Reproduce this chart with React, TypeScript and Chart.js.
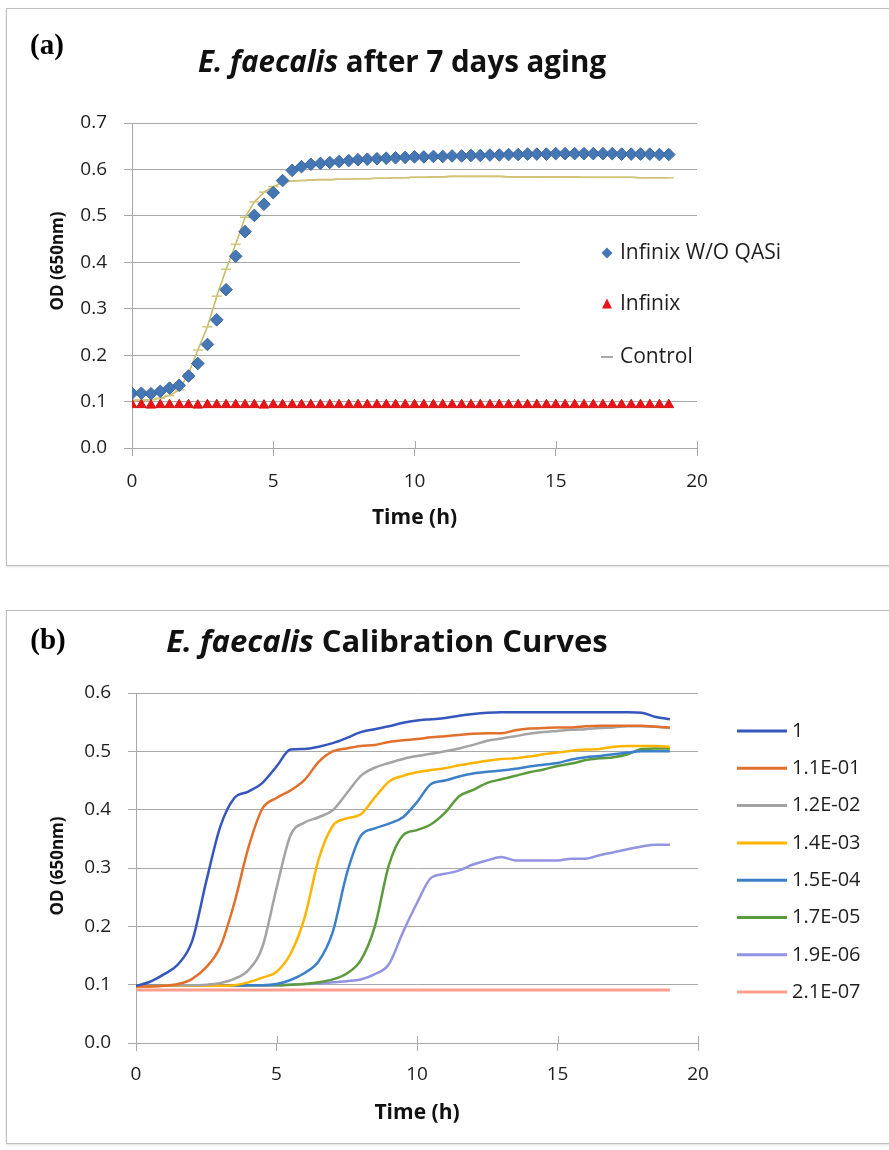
import React, { useEffect, useRef } from 'react';
import { Chart, registerables } from 'chart.js';

Chart.register(...registerables);

const FAMILY = "'Open Sans', sans-serif";
const GRID = '#a8a8a8';
const TEXT = '#1e1e1e';

// ---------- Panel (a) data ----------
const TIME_A = [0, 0.33, 0.67, 1, 1.33, 1.67, 2, 2.33, 2.67, 3, 3.33, 3.67, 4, 4.33, 4.67, 5, 5.33, 5.67, 6, 6.33, 6.67, 7, 7.33, 7.67, 8, 8.33, 8.67, 9, 9.33, 9.67, 10, 10.33, 10.67, 11, 11.33, 11.67, 12, 12.33, 12.67, 13, 13.33, 13.67, 14, 14.33, 14.67, 15, 15.33, 15.67, 16, 16.33, 16.67, 17, 17.33, 17.67, 18, 18.33, 18.67, 19];
const INFINIX_WO_QASI = [0.118, 0.118, 0.117, 0.122, 0.129, 0.135, 0.155, 0.182, 0.223, 0.276, 0.341, 0.413, 0.466, 0.501, 0.525, 0.55, 0.576, 0.598, 0.606, 0.611, 0.613, 0.615, 0.617, 0.619, 0.621, 0.622, 0.623, 0.624, 0.625, 0.626, 0.627, 0.627, 0.628, 0.628, 0.629, 0.629, 0.63, 0.63, 0.631, 0.631, 0.632, 0.632, 0.633, 0.633, 0.633, 0.634, 0.634, 0.634, 0.634, 0.634, 0.634, 0.634, 0.633, 0.633, 0.633, 0.633, 0.632, 0.632];
const INFINIX = [0.093, 0.093, 0.092, 0.093, 0.093, 0.093, 0.093, 0.092, 0.093, 0.093, 0.093, 0.093, 0.093, 0.093, 0.092, 0.093, 0.093, 0.093, 0.093, 0.093, 0.093, 0.093, 0.093, 0.093, 0.093, 0.093, 0.093, 0.093, 0.093, 0.093, 0.093, 0.093, 0.093, 0.093, 0.093, 0.093, 0.093, 0.093, 0.093, 0.093, 0.093, 0.093, 0.093, 0.093, 0.093, 0.093, 0.093, 0.093, 0.093, 0.093, 0.093, 0.093, 0.093, 0.093, 0.093, 0.093, 0.093, 0.093];
const CONTROL = [0.103, 0.103, 0.104, 0.107, 0.113, 0.125, 0.16, 0.211, 0.261, 0.327, 0.385, 0.439, 0.497, 0.53, 0.551, 0.563, 0.572, 0.575, 0.576, 0.577, 0.578, 0.578, 0.579, 0.579, 0.58, 0.58, 0.581, 0.581, 0.582, 0.582, 0.583, 0.583, 0.584, 0.584, 0.585, 0.585, 0.585, 0.585, 0.585, 0.585, 0.584, 0.584, 0.584, 0.584, 0.584, 0.584, 0.584, 0.584, 0.583, 0.583, 0.583, 0.583, 0.583, 0.583, 0.582, 0.582, 0.582, 0.582];
const SERIES_A_NAMES = ['Infinix W/O QASi', 'Infinix', 'Control'];
const Y_TICKS_A_MAX = 0.7;

// ---------- Panel (b) data ----------
const TIME_B = [0, 0.5, 1, 1.5, 2, 2.5, 3, 3.5, 4, 4.5, 5, 5.5, 6, 6.5, 7, 7.5, 8, 8.5, 9, 9.5, 10, 10.5, 11, 11.5, 12, 12.5, 13, 13.5, 14, 14.5, 15, 15.5, 16, 16.5, 17, 17.5, 18, 18.5, 19];
const DIL_1 = [0.098, 0.105, 0.118, 0.135, 0.175, 0.277, 0.371, 0.42, 0.431, 0.446, 0.474, 0.503, 0.504, 0.508, 0.514, 0.523, 0.533, 0.538, 0.543, 0.549, 0.553, 0.555, 0.557, 0.561, 0.564, 0.566, 0.567, 0.567, 0.567, 0.567, 0.567, 0.567, 0.567, 0.567, 0.567, 0.567, 0.566, 0.559, 0.555];
const DIL_2 = [0.097, 0.097, 0.098, 0.101, 0.11, 0.13, 0.165, 0.24, 0.335, 0.402, 0.42, 0.433, 0.451, 0.482, 0.5, 0.505, 0.509, 0.511, 0.516, 0.519, 0.521, 0.524, 0.526, 0.528, 0.53, 0.531, 0.531, 0.536, 0.539, 0.54, 0.541, 0.541, 0.543, 0.544, 0.544, 0.544, 0.544, 0.542, 0.541];
const DIL_3 = [0.098, 0.098, 0.098, 0.099, 0.099, 0.1, 0.103, 0.11, 0.125, 0.165, 0.265, 0.356, 0.378, 0.387, 0.399, 0.428, 0.458, 0.472, 0.48, 0.487, 0.492, 0.496, 0.5, 0.505, 0.511, 0.518, 0.522, 0.526, 0.53, 0.533, 0.535, 0.537, 0.538, 0.54, 0.541, 0.543, 0.543, 0.542, 0.54];
const DIL_4 = [0.097, 0.097, 0.098, 0.098, 0.098, 0.098, 0.098, 0.099, 0.104, 0.112, 0.122, 0.153, 0.215, 0.315, 0.372, 0.385, 0.392, 0.421, 0.448, 0.458, 0.464, 0.468, 0.471, 0.476, 0.48, 0.484, 0.487, 0.488, 0.491, 0.495, 0.498, 0.501, 0.503, 0.504, 0.508, 0.509, 0.509, 0.509, 0.508];
const DIL_5 = [0.098, 0.098, 0.098, 0.098, 0.098, 0.098, 0.098, 0.098, 0.099, 0.099, 0.101, 0.108, 0.12, 0.14, 0.19, 0.29, 0.355, 0.368, 0.376, 0.387, 0.413, 0.444, 0.45, 0.457, 0.462, 0.465, 0.467, 0.47, 0.474, 0.477, 0.48, 0.486, 0.49, 0.492, 0.495, 0.498, 0.5, 0.5, 0.5];
const DIL_6 = [0.098, 0.098, 0.098, 0.098, 0.098, 0.098, 0.098, 0.098, 0.099, 0.099, 0.099, 0.1, 0.101, 0.104, 0.109, 0.119, 0.142, 0.2, 0.305, 0.356, 0.365, 0.375, 0.395, 0.423, 0.434, 0.446, 0.452, 0.458, 0.464, 0.469, 0.475, 0.479, 0.485, 0.488, 0.49, 0.495, 0.504, 0.505, 0.505];
const DIL_7 = [0.098, 0.098, 0.098, 0.098, 0.098, 0.098, 0.098, 0.098, 0.099, 0.099, 0.099, 0.1, 0.101, 0.102, 0.104, 0.106, 0.109, 0.118, 0.135, 0.19, 0.24, 0.283, 0.29, 0.296, 0.306, 0.313, 0.319, 0.313, 0.313, 0.313, 0.313, 0.316, 0.316, 0.322, 0.327, 0.332, 0.337, 0.34, 0.34];
const DIL_8 = [0.091, 0.091, 0.091, 0.091, 0.091, 0.091, 0.091, 0.091, 0.091, 0.091, 0.091, 0.091, 0.091, 0.091, 0.091, 0.091, 0.091, 0.091, 0.091, 0.091, 0.091, 0.091, 0.091, 0.091, 0.091, 0.091, 0.091, 0.091, 0.091, 0.091, 0.091, 0.091, 0.091, 0.091, 0.091, 0.091, 0.091, 0.091, 0.091];
const SERIES_B_NAMES = ['1', '1.1E-01', '1.2E-02', '1.4E-03', '1.5E-04', '1.7E-05', '1.9E-06', '2.1E-07'];
const SERIES_B_VALUES = [DIL_1, DIL_2, DIL_3, DIL_4, DIL_5, DIL_6, DIL_7, DIL_8];
const SERIES_B_COLORS = ['#3556bd', '#e2702c', '#a3a3a3', '#ffb400', '#3b80c8', '#5b9b3b', '#9293e2', '#ff9d8e'];
const Y_TICKS_B_MAX = 0.6;
const X_MAX = 20;

type Decor = {
  tag: string; tagX: number; tagY: number;
  italic: string; rest: string; titleCX: number; titleY: number; titleSize: number;
  yTitle: string; yTitleX: number; yTitleY: number;
  whiteBox?: [number, number, number, number];
  drawLegend: (ctx: CanvasRenderingContext2D) => void;
};

function decorPlugin(d: Decor) {
  return {
    id: 'decor',
    beforeDatasetsDraw(chart: any) {
      if (d.whiteBox) {
        const ctx = chart.ctx;
        ctx.save();
        ctx.fillStyle = '#ffffff';
        ctx.fillRect(d.whiteBox[0], d.whiteBox[1], d.whiteBox[2], d.whiteBox[3]);
        ctx.restore();
      }
    },
    afterDraw(chart: any) {
      const ctx: CanvasRenderingContext2D = chart.ctx;
      ctx.save();
      const xs = chart.scales.x;
      const bottom = chart.chartArea.bottom;
      ctx.strokeStyle = GRID;
      ctx.lineWidth = 1;
      xs.ticks.forEach((t: any) => {
        const px = Math.round(xs.getPixelForValue(t.value)) + 0.5;
        ctx.beginPath();
        ctx.moveTo(px, bottom - 7);
        ctx.lineTo(px, bottom);
        ctx.stroke();
      });
      ctx.fillStyle = '#000';
      ctx.font = "bold 29px 'Liberation Serif', serif";
      ctx.textAlign = 'center';
      ctx.textBaseline = 'middle';
      ctx.fillText(d.tag, d.tagX, d.tagY);

      const fi = `italic bold ${d.titleSize}px ${FAMILY}`;
      const fr = `bold ${d.titleSize}px ${FAMILY}`;
      ctx.font = fi;
      const wi = ctx.measureText(d.italic).width;
      ctx.font = fr;
      const wr = ctx.measureText(d.rest).width;
      const x0 = d.titleCX - (wi + wr) / 2;
      ctx.textAlign = 'left';
      ctx.textBaseline = 'alphabetic';
      ctx.fillStyle = '#111';
      ctx.font = fi;
      ctx.fillText(d.italic, x0, d.titleY);
      ctx.font = fr;
      ctx.fillText(d.rest, x0 + wi, d.titleY);

      ctx.translate(d.yTitleX, d.yTitleY);
      ctx.rotate(-Math.PI / 2);
      ctx.font = `bold 17px ${FAMILY}`;
      ctx.textAlign = 'center';
      ctx.textBaseline = 'middle';
      ctx.fillText(d.yTitle, 0, 0);
      ctx.restore();

      ctx.save();
      d.drawLegend(ctx);
      ctx.restore();
    },
  };
}

function axes(yMax: number, yWidth: number, xTickPad: number) {
  return {
    x: {
      type: 'linear', min: 0, max: X_MAX,
      afterFit: (s: any) => { s.height = 90; },
      ticks: { stepSize: 5, padding: xTickPad, color: TEXT, font: { size: 19, family: FAMILY } },
      grid: { drawOnChartArea: false, drawTicks: true, tickLength: 8, color: GRID },
      border: { color: GRID },
      title: { display: true, text: 'Time (h)', color: '#111', font: { size: 21, weight: 'bold', family: FAMILY }, padding: { top: 0, bottom: 7.4 } },
    },
    y: {
      type: 'linear', min: 0, max: yMax,
      afterFit: (s: any) => { s.width = yWidth; },
      ticks: { stepSize: 0.1, padding: 17, color: TEXT, font: { size: 19, family: FAMILY }, callback: (v: any) => Number(v).toFixed(1) },
      grid: { color: GRID, tickLength: 8 },
      border: { color: GRID },
    },
  };
}

function configA() {
  const pts = (vals: number[]) => TIME_A.map((t, i) => ({ x: t, y: vals[i] }));
  const legend = (ctx: CanvasRenderingContext2D) => {
    ctx.font = `21px ${FAMILY}`;
    ctx.textBaseline = 'middle';
    ctx.textAlign = 'left';
    const ys = [244, 295, 348];
    ctx.fillStyle = '#4677b5';
    ctx.beginPath();
    ctx.moveTo(600, ys[0] - 5.5); ctx.lineTo(605.5, ys[0]); ctx.lineTo(600, ys[0] + 5.5); ctx.lineTo(594.5, ys[0]);
    ctx.closePath(); ctx.fill();
    ctx.fillStyle = '#e8141a';
    ctx.beginPath();
    ctx.moveTo(600, ys[1] - 5.5); ctx.lineTo(605, ys[1] + 4.5); ctx.lineTo(595, ys[1] + 4.5);
    ctx.closePath(); ctx.fill();
    ctx.strokeStyle = '#a8a8a8';
    ctx.lineWidth = 2;
    ctx.beginPath(); ctx.moveTo(594, ys[2]); ctx.lineTo(606, ys[2]); ctx.stroke();
    ctx.fillStyle = TEXT;
    SERIES_A_NAMES.forEach((n, i) => ctx.fillText(n, 613, ys[i]));
  };
  return {
    type: 'line',
    data: {
      datasets: [
        { label: SERIES_A_NAMES[0], data: pts(INFINIX_WO_QASI), showLine: false, pointStyle: 'rectRot', pointRadius: 6.3, backgroundColor: '#4677b5', borderColor: '#3b679f', borderWidth: 1 },
        { label: SERIES_A_NAMES[1], data: pts(INFINIX), showLine: false, pointStyle: 'triangle', pointRadius: 5.6, backgroundColor: '#e8141a', borderColor: '#d21212', borderWidth: 1 },
        { label: SERIES_A_NAMES[2], data: pts(CONTROL), showLine: true, borderColor: '#c7bb6a', borderWidth: 1.6, pointStyle: 'line', pointRadius: 5, pointBorderColor: '#d4c47a', pointBorderWidth: 1.5, tension: 0 },
      ],
    },
    options: {
      animation: false,
      responsive: false,
      events: [],
      layout: { padding: { left: 30, top: 114, right: 192, bottom: 26 } },
      plugins: { legend: { display: false }, title: { display: false }, tooltip: { enabled: false } },
      scales: axes(Y_TICKS_A_MAX, 95, 14),
    },
    plugins: [decorPlugin({
      tag: '(a)', tagX: 40, tagY: 38,
      italic: 'E. faecalis', rest: ' after 7 days aging', titleCX: 395, titleY: 62.5, titleSize: 29.5,
      yTitle: 'OD (650nm)', yTitleX: 51, yTitleY: 252,
      whiteBox: [513, 220, 290, 156],
      drawLegend: legend,
    })],
  };
}

function configB() {
  const legend = (ctx: CanvasRenderingContext2D) => {
    ctx.font = `20px ${FAMILY}`;
    ctx.textBaseline = 'middle';
    ctx.textAlign = 'left';
    SERIES_B_NAMES.forEach((n, i) => {
      const y = 120 + i * 37.3;
      ctx.strokeStyle = SERIES_B_COLORS[i];
      ctx.lineWidth = 3;
      ctx.beginPath(); ctx.moveTo(730, y); ctx.lineTo(780, y); ctx.stroke();
      ctx.fillStyle = TEXT;
      ctx.fillText(n, 785, y);
    });
  };
  return {
    type: 'line',
    data: {
      datasets: SERIES_B_NAMES.map((n, i) => ({
        label: n,
        data: TIME_B.map((t, j) => ({ x: t, y: SERIES_B_VALUES[i][j] })),
        borderColor: SERIES_B_COLORS[i],
        backgroundColor: SERIES_B_COLORS[i],
        borderWidth: i === 7 ? 3 : 2.5,
        pointRadius: 0,
        cubicInterpolationMode: 'monotone',
      })),
    },
    options: {
      animation: false,
      responsive: false,
      events: [],
      layout: { padding: { left: 30, top: 82, right: 191, bottom: 9 } },
      plugins: { legend: { display: false }, title: { display: false }, tooltip: { enabled: false } },
      scales: axes(Y_TICKS_B_MAX, 99, 12),
    },
    plugins: [decorPlugin({
      tag: '(b)', tagX: 41, tagY: 31,
      italic: 'E. faecalis', rest: ' Calibration Curves', titleCX: 380, titleY: 41, titleSize: 31,
      yTitle: 'OD (650nm)', yTitleX: 51, yTitleY: 255,
      drawLegend: legend,
    })],
  };
}

function Panel({ top, height, make }: { top: number; height: number; make: () => any }) {
  const ref = useRef<HTMLCanvasElement>(null);
  useEffect(() => {
    const chart = new Chart(ref.current as HTMLCanvasElement, make());
    return () => chart.destroy();
  }, []);
  return (
    <div style={{ position: 'absolute', left: 6, top, width: 900, height, border: '1px solid #bdbdbd', boxSizing: 'border-box', boxShadow: '0 1px 2px rgba(0,0,0,0.12)', background: '#fff' }}>
      <canvas ref={ref} width={882} height={height - 3} style={{ position: 'absolute', left: 0, top: 0, width: 882, height: height - 3 }} />
    </div>
  );
}

export default function App() {
  return (
    <div style={{ position: 'absolute', left: 0, top: 0, width: 889, height: 1150, overflow: 'hidden', background: '#fff' }}>
      <Panel top={8} height={558} make={configA} />
      <Panel top={610} height={534} make={configB} />
    </div>
  );
}
